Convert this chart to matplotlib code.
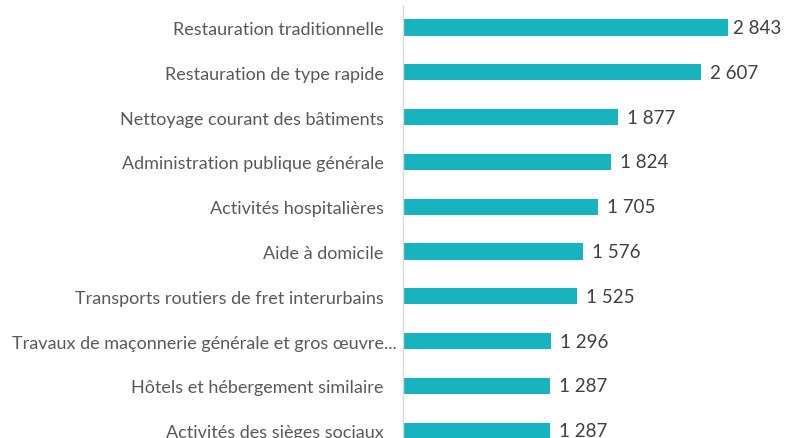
import matplotlib.pyplot as plt
from matplotlib.transforms import ScaledTranslation

# activity sectors and counts
categories = ["Restauration traditionnelle", "Restauration de type rapide",
              "Nettoyage courant des bâtiments", "Administration publique générale",
              "Activités hospitalières", "Aide à domicile",
              "Transports routiers de fret interurbains",
              "Travaux de maçonnerie générale et gros œuvre...",
              "Hôtels et hébergement similaire", "Activités des sièges sociaux"]
values = [2843, 2607, 1877, 1824, 1705, 1576, 1525, 1296, 1287, 1287]
value_labels = ["2 843", "2 607", "1 877", "1 824", "1 705", "1 576", "1 525", "1 296", "1 287", "1 287"]

plt.rcParams['font.family'] = ['Lato', 'DejaVu Sans']

fig = plt.figure(figsize=(7.9, 4.39), dpi=100)
ax = fig.add_axes([403 / 790, 0, 1 - 403 / 790, 1 - 7 / 439])

pos = list(range(len(categories)))
ax.barh(pos, values, height=0.36, color="#17B3BF")
for p, v, lab in zip(pos, values, value_labels):
    # the longest bar's label is squeezed against the right edge
    gap = 0.055 if v == max(values) else 0.09
    ax.annotate(lab, (v, p), xytext=(gap * 72, 0), textcoords="offset points",
                va="center", ha="left", fontsize=13.5, color="#404040")

ax.set_yticks(pos)
ax.set_yticklabels(categories, fontsize=13, color="#595959")
ax.tick_params(axis="y", length=0, pad=14)
# the truncated label sits closer to the axis
long_lab = ax.get_yticklabels()[7]
long_lab.set_transform(long_lab.get_transform() + ScaledTranslation(0.13, 0, fig.dpi_scale_trans))
ax.set_xticks([])
ax.set_xlim(0, 3386)
ax.set_ylim(9.163, -0.48)

for s in ["top", "right", "bottom"]:
    ax.spines[s].set_visible(False)
ax.spines["left"].set_color("#D9D9D9")
ax.spines["left"].set_linewidth(1)

fig.savefig("out.png", dpi=100)
